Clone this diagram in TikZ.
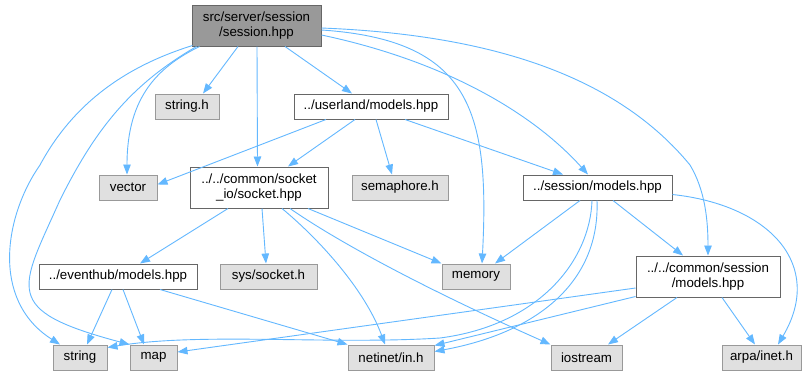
\documentclass[tikz,border=0pt]{standalone}
\usepackage{fontspec}
\setmainfont{Liberation Sans}
\usetikzlibrary{arrows.meta,calc}
\definecolor{edgeblue}{HTML}{63B8FF}
\definecolor{rootfill}{HTML}{999999}
\definecolor{darkborder}{HTML}{666666}
\definecolor{sysfill}{HTML}{E0E0E0}
\definecolor{sysborder}{HTML}{999999}
\begin{document}
\begin{tikzpicture}[x=1pt,y=-1pt,
  box/.style={draw, rectangle, inner sep=0pt, line width=1pt,
    font=\fontsize{13.3}{15}\selectfont, align=center, minimum height=25pt},
  rootbox/.style={box, fill=rootfill, draw=darkborder, minimum height=41pt},
  filebox/.style={box, fill=white, draw=darkborder},
  tallfile/.style={filebox, minimum height=41pt},
  sysbox/.style={box, fill=sysfill, draw=sysborder},
  dep/.style={draw=edgeblue, line width=0.9pt, -{Triangle[length=10pt,width=7.5pt]}}
]
\fill[white] (0,0) rectangle (810,376);
\useasboundingbox (0,0) rectangle (810,376);

% include graph nodes
\node[rootbox, minimum width=129pt] (root) at (256.5,25.5) {src/server/session\\/session.hpp};
\node[sysbox, minimum width=64pt] (stringh) at (187,106.5) {string.h};
\node[filebox, minimum width=154pt] (userland) at (371,106.5) {../userland/models.hpp};
\node[sysbox, minimum width=58pt] (vector) at (128,187.5) {vector};
\node[tallfile, minimum width=138pt] (socket) at (259,187.5) {../../common/socket\\\_io/socket.hpp};
\node[sysbox, minimum width=96pt] (semaphore) at (400,187.5) {semaphore.h};
\node[filebox, minimum width=149pt] (sessmodels) at (597.5,187.5) {../session/models.hpp};
\node[filebox, minimum width=158pt] (eventhub) at (118,276.5) {../eventhub/models.hpp};
\node[sysbox, minimum width=97pt] (syssocket) at (268.5,276.5) {sys/socket.h};
\node[sysbox, minimum width=68pt] (memory) at (476,276.5) {memory};
\node[tallfile, minimum width=144pt] (commsess) at (708,276.5) {../../common/session\\/models.hpp};
\node[sysbox, minimum width=54pt] (string) at (80,357.5) {string};
\node[sysbox, minimum width=47pt] (map) at (153.5,357.5) {map};
\node[sysbox, minimum width=86pt] (netinet) at (391,357.5) {netinet/in.h};
\node[sysbox, minimum width=71pt] (iostream) at (586.5,357.5) {iostream};
\node[sysbox, minimum width=79pt] (arpa) at (761.5,357.5) {arpa/inet.h};

% session.hpp
\draw[dep] ($(root.south)+(-18.5,0)$) -- ($(stringh.north)+(16,0)$);
\draw[dep] ($(root.south)+(28.5,0)$) -- ($(userland.north)+(-19,0)$);
\draw[dep] ($(root.south)+(0.5,0)$) -- ($(socket.north)+(-1.5,0)$);
\draw[dep] ($(root.south west)+(8,0)$) .. controls (160,66) and (127,95) .. ($(vector.north)+(-1,0)$);
\draw[dep] ($(root.south west)+(1,-1)$) .. controls (130,65) and (75,100) .. (40,165)
  .. controls (5,215) and (-10,300) .. ($(string.north)+(-20,0)$);
\draw[dep] ($(root.south west)+(5,0)$) .. controls (130,85) and (95,130) .. (60,200)
  .. controls (20,290) and (0,310) .. (map.north west);
\draw[dep] ($(root.east)+(0,4.5)$) .. controls (470,40) and (490,110) .. ($(memory.north)+(6,0)$);
\draw[dep] ($(root.east)+(0,9.5)$) .. controls (440,60) and (530,110) .. ($(sessmodels.north)+(-9.5,0)$);
\draw[dep] ($(root.east)+(0,2.5)$) .. controls (500,35) and (620,80) .. (690,165)
  .. controls (705,190) and (708,220) .. (commsess.north);

% userland/models.hpp
\draw[dep] ($(userland.south)+(-45,0)$) -- ($(vector.east)+(0,-3)$);
\draw[dep] ($(userland.south)+(-16,0)$) -- ($(socket.north)+(29,0)$);
\draw[dep] ($(userland.south)+(5,0)$) -- ($(semaphore.north)+(-8,0)$);
\draw[dep] ($(userland.south)+(34,0)$) -- ($(sessmodels.north)+(-34.5,0)$);

% socket_io/socket.hpp
\draw[dep] ($(socket.south)+(-31,0)$) -- ($(eventhub.north)+(22,0)$);
\draw[dep] ($(socket.south)+(3,0)$) -- ($(syssocket.north)+(-2.5,0)$);
\draw[dep] ($(socket.south)+(23,0)$) .. controls (320,240) and (365,290) .. ($(netinet.north)+(-6,0)$);
\draw[dep] ($(socket.south)+(31,0)$) .. controls (350,250) and (450,300) .. (iostream.north west);
\draw[dep] ($(socket.south)+(49,0)$) -- (memory.north west);

% eventhub/models.hpp
\draw[dep] ($(eventhub.south)+(-6,0)$) -- ($(string.north)+(7,0)$);
\draw[dep] ($(eventhub.south)+(5,0)$) -- ($(map.north)+(-9.5,0)$);
\draw[dep] ($(eventhub.south)+(42,0)$) -- (netinet.north west);

% session/models.hpp
\draw[dep] ($(sessmodels.south)+(-17.5,0)$) -- ($(memory.north)+(19,0)$);
\draw[dep] ($(sessmodels.south)+(-5.5,0)$) .. controls (590,260) and (540,325) .. (440,338)
  .. controls (330,345) and (200,332) .. ($(string.east)+(0,-10)$);
\draw[dep] ($(sessmodels.south)+(-0.5,0)$) .. controls (600,280) and (540,332) .. ($(netinet.east)+(0,-6)$);
\draw[dep] ($(sessmodels.south)+(15.5,0)$) -- ($(commsess.north)+(-25,0)$);
\draw[dep] ($(sessmodels.east)+(0,7)$) .. controls (770,205) and (825,265) .. ($(arpa.north)+(16.5,0)$);

% common/session/models.hpp
\draw[dep] ($(commsess.west)+(0,11.5)$) -- ($(map.east)+(0,-5.5)$);
\draw[dep] ($(commsess.south west)+(0,-1)$) -- ($(netinet.east)+(0,-12)$);
\draw[dep] ($(commsess.south)+(-31,0)$) -- ($(iostream.north)+(21.5,0)$);
\draw[dep] ($(commsess.south)+(14,0)$) -- ($(arpa.north)+(-6.5,0)$);
\end{tikzpicture}
\end{document}
